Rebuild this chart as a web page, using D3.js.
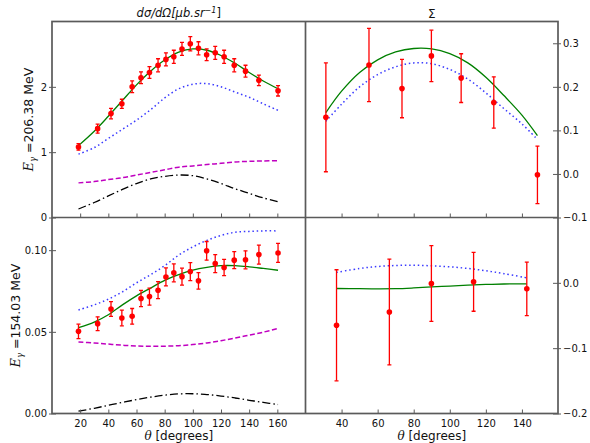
<!DOCTYPE html>
<html>
<head>
<meta charset="utf-8">
<script src="https://cdn.jsdelivr.net/npm/d3@7"></script>
<style>
  body { margin: 0; background: #fff; }
  svg { display: block; }
  text { font-family: "DejaVu Sans", sans-serif; fill: #111; }
</style>
</head>
<body>
<svg id="chart" width="590" height="443"></svg>
<script>
// ---------- measured data ----------
const csAngles = [18.8, 32.4, 41.9, 49.6, 56.9, 63.2, 69.2, 75.3, 80.9, 86.5,
                  92.3, 98.2, 104.0, 109.8, 115.9, 122.2, 129.4, 137.4, 146.9, 160.5];

const cs206    = [1.08, 1.36, 1.59, 1.74, 2.00, 2.14, 2.22, 2.33, 2.42, 2.46,
                  2.58, 2.66, 2.59, 2.49, 2.52, 2.46, 2.33, 2.24, 2.10, 1.94];
const cs206Err = [0.05, 0.07, 0.08, 0.07, 0.09, 0.09, 0.09, 0.10, 0.10, 0.10,
                  0.10, 0.11, 0.10, 0.09, 0.10, 0.10, 0.10, 0.09, 0.08, 0.08];

const cs154    = [0.0503, 0.0550, 0.0640, 0.0585, 0.0595, 0.0704, 0.0716, 0.0755, 0.0836, 0.0861,
                  0.0838, 0.0869, 0.0812, 0.0996, 0.0918, 0.0894, 0.0939, 0.0941, 0.0973, 0.0983];
const cs154Err = [0.0044, 0.0042, 0.0045, 0.0048, 0.0048, 0.0050, 0.0052, 0.0052, 0.0055, 0.0055,
                  0.0052, 0.0055, 0.0050, 0.0057, 0.0055, 0.0050, 0.0052, 0.0055, 0.0058, 0.0058];

const sigma206Angles = [31.3, 55.2, 73.5, 89.8, 106.3, 124.4, 148.6];
const sigma206       = [0.130, 0.250, 0.196, 0.271, 0.220, 0.164, -0.002];
const sigma206Err    = [0.125, 0.084, 0.067, 0.059, 0.056, 0.059, 0.066];

const sigma154Angles = [37.2, 66.5, 89.8, 113.2, 142.7];
const sigma154       = [-0.065, -0.0446, -0.001, 0.0015, -0.0092];
const sigma154Err    = [0.085, 0.081, 0.058, 0.045, 0.041];

// ---------- model curves ----------
const csCurveAngles = [18.8, 30, 40, 50, 60, 70, 80, 90, 100, 110, 120, 130, 140, 150, 160.5];

const csFull206  = [1.10, 1.32, 1.55, 1.79, 2.03, 2.24, 2.41, 2.53, 2.58, 2.56, 2.48, 2.36, 2.22, 2.09, 1.97];
const csPartA206 = [0.97, 1.07, 1.21, 1.35, 1.49, 1.65, 1.83, 1.97, 2.04, 2.05, 2.00, 1.92, 1.84, 1.74, 1.64];
const csPartB206 = [0.53, 0.55, 0.58, 0.61, 0.65, 0.69, 0.73, 0.77, 0.79, 0.81, 0.83, 0.85, 0.86, 0.865, 0.87];
const csPartC206 = [0.13, 0.23, 0.33, 0.43, 0.52, 0.59, 0.63, 0.65, 0.64, 0.59, 0.52, 0.44, 0.37, 0.30, 0.24];

const csFull154  = [0.0526, 0.0560, 0.0605, 0.0665, 0.0720, 0.0768, 0.0815, 0.0850, 0.0878, 0.0895, 0.0905, 0.0905, 0.0898, 0.0888, 0.0877];
const csPartA154 = [0.0634, 0.0665, 0.0700, 0.0745, 0.0800, 0.0850, 0.0905, 0.0970, 0.1020, 0.1060, 0.1090, 0.1110, 0.1115, 0.1118, 0.1118];
const csPartB154 = [0.0438, 0.0432, 0.0425, 0.0418, 0.0413, 0.0411, 0.0412, 0.0415, 0.0422, 0.0432, 0.0446, 0.0462, 0.0480, 0.0498, 0.0521];
const csPartC154 = [0.0014, 0.0032, 0.0050, 0.0068, 0.0085, 0.0100, 0.0112, 0.0120, 0.0121, 0.0116, 0.0107, 0.0095, 0.0081, 0.0068, 0.0055];

const sigma206CurveAngles = [31.3, 40, 50, 60, 70, 80, 90, 100, 110, 120, 130, 140, 148.6];
const sigmaFull206  = [0.141, 0.190, 0.233, 0.262, 0.280, 0.288, 0.287, 0.276, 0.255, 0.222, 0.180, 0.135, 0.088];
const sigmaPartA206 = [0.121, 0.160, 0.200, 0.228, 0.246, 0.255, 0.253, 0.240, 0.218, 0.186, 0.150, 0.115, 0.079];

const sigma154CurveAngles = [37.2, 50, 60, 70, 80, 90, 100, 110, 120, 130, 142.7];
const sigmaFull154  = [-0.0087, -0.0090, -0.0092, -0.0090, -0.0078, -0.0062, -0.0050, -0.0035, -0.0025, -0.0018, -0.0015];
const sigmaPartA154 = [0.016, 0.022, 0.025, 0.0265, 0.027, 0.026, 0.0245, 0.022, 0.0185, 0.014, 0.0077];

// ---------- ticks ----------
const csAngleTicks    = [20, 40, 60, 80, 100, 120, 140, 160];
const sigmaAngleTicks = [40, 60, 80, 100, 120, 140];
const csTicks206      = [0, 1, 2];
const csTicks154      = [0, 0.05, 0.10];
const sigmaTicks206   = [-0.1, 0.0, 0.1, 0.2, 0.3];
const sigmaTicks154   = [-0.2, -0.1, 0.0];

// ---------- layout ----------
const svg = d3.select("#chart");
const L = 52, M = 305.5, R = 558, T = 21.5, H = 217.5, B = 413.5;
const spineColor = "#5a5a5a";

const styles = {
  full:  { stroke: "#008000", width: 1.3, dash: null },
  partA: { stroke: "#3a3aff", width: 1.5, dash: "1.5,2.8" },
  partB: { stroke: "#c000c0", width: 1.5, dash: "5,2.5" },
  partC: { stroke: "#000000", width: 1.3, dash: "8,3,1.5,3" }
};

function panel(id, x0, x1, y0, y1, xDomain, yDomain, curves, pts, axisCfg) {
  const x = d3.scaleLinear().domain(xDomain).range([x0, x1]);
  const y = d3.scaleLinear().domain(yDomain).range([y1, y0]);

  svg.append("clipPath").attr("id", "clip-" + id)
    .append("rect").attr("x", x0).attr("y", y0).attr("width", x1 - x0).attr("height", y1 - y0);

  const g = svg.append("g").attr("clip-path", `url(#clip-${id})`);
  const line = d3.line().curve(d3.curveCatmullRom.alpha(0.5))
    .x(d => x(d[0])).y(d => y(d[1]));

  curves.forEach(c => {
    const st = styles[c.style];
    g.append("path")
      .datum(d3.zip(c.angles, c.values))
      .attr("d", line)
      .attr("fill", "none")
      .attr("stroke", st.stroke)
      .attr("stroke-width", st.width)
      .attr("stroke-dasharray", st.dash);
  });

  const data = d3.zip(pts.angles, pts.values, pts.errors);
  const eb = g.append("g").attr("stroke", "#ff0000").attr("stroke-width", 1.3);
  eb.selectAll("line.bar").data(data).join("line")
    .attr("x1", d => x(d[0])).attr("x2", d => x(d[0]))
    .attr("y1", d => y(d[1] - d[2])).attr("y2", d => y(d[1] + d[2]));
  eb.selectAll("line.capTop").data(data).join("line")
    .attr("x1", d => x(d[0]) - 2).attr("x2", d => x(d[0]) + 2)
    .attr("y1", d => y(d[1] + d[2])).attr("y2", d => y(d[1] + d[2]));
  eb.selectAll("line.capBot").data(data).join("line")
    .attr("x1", d => x(d[0]) - 2).attr("x2", d => x(d[0]) + 2)
    .attr("y1", d => y(d[1] - d[2])).attr("y2", d => y(d[1] - d[2]));
  g.append("g").selectAll("circle").data(data).join("circle")
    .attr("cx", d => x(d[0])).attr("cy", d => y(d[1])).attr("r", 2.8)
    .attr("fill", "#ff0000");

  // bottom axis (ticks pointing inward)
  const xa = svg.append("g").attr("transform", `translate(0,${y1})`)
    .call(d3.axisBottom(x).tickValues(axisCfg.xTicks).tickSize(-4).tickPadding(6.5)
      .tickFormat(axisCfg.xLabels ? d3.format("d") : ""));
  xa.select(".domain").remove();
  xa.selectAll(".tick line").attr("stroke", spineColor).attr("stroke-width", 1);
  xa.selectAll("text").attr("font-size", 10).attr("font-family", "DejaVu Sans").attr("fill", "#111");

  // vertical axis
  if (axisCfg.side === "left") {
    const ya = svg.append("g").attr("transform", `translate(${x0},0)`)
      .call(d3.axisLeft(y).tickValues(axisCfg.yTicks).tickSize(3).tickPadding(2)
        .tickFormat(d3.format(axisCfg.yFmt)));
    ya.select(".domain").remove();
    ya.selectAll(".tick line").attr("x1", 4).attr("x2", -3)
      .attr("stroke", spineColor).attr("stroke-width", 1);
    ya.selectAll("text").attr("font-size", 10).attr("font-family", "DejaVu Sans").attr("fill", "#111");
  } else {
    const ya = svg.append("g").attr("transform", `translate(${x1},0)`)
      .call(d3.axisRight(y).tickValues(axisCfg.yTicks).tickSize(3).tickPadding(2)
        .tickFormat(d3.format(axisCfg.yFmt)));
    ya.select(".domain").remove();
    ya.selectAll(".tick line").attr("x1", -5).attr("x2", 3)
      .attr("stroke", spineColor).attr("stroke-width", 1);
    ya.selectAll("text").attr("font-size", 10).attr("font-family", "DejaVu Sans").attr("fill", "#111");
  }
}

panel("tl", L, M, T, H, [0, 180], [0, 3.0], [
  { angles: csCurveAngles, values: csPartC206, style: "partC" },
  { angles: csCurveAngles, values: csPartB206, style: "partB" },
  { angles: csCurveAngles, values: csPartA206, style: "partA" },
  { angles: csCurveAngles, values: csFull206,  style: "full" }
], { angles: csAngles, values: cs206, errors: cs206Err },
{ side: "left", xTicks: csAngleTicks, xLabels: false, yTicks: csTicks206, yFmt: "d" });

panel("tr", M, R, T, H, [20, 160], [-0.1, 0.35], [
  { angles: sigma206CurveAngles, values: sigmaPartA206, style: "partA" },
  { angles: sigma206CurveAngles, values: sigmaFull206,  style: "full" }
], { angles: sigma206Angles, values: sigma206, errors: sigma206Err },
{ side: "right", xTicks: sigmaAngleTicks, xLabels: false, yTicks: sigmaTicks206, yFmt: ".1f" });

panel("bl", L, M, H, B, [0, 180], [0, 0.12], [
  { angles: csCurveAngles, values: csPartC154, style: "partC" },
  { angles: csCurveAngles, values: csPartB154, style: "partB" },
  { angles: csCurveAngles, values: csPartA154, style: "partA" },
  { angles: csCurveAngles, values: csFull154,  style: "full" }
], { angles: csAngles, values: cs154, errors: cs154Err },
{ side: "left", xTicks: csAngleTicks, xLabels: true, yTicks: csTicks154, yFmt: ".2f" });

panel("br", M, R, H, B, [20, 160], [-0.2, 0.1], [
  { angles: sigma154CurveAngles, values: sigmaPartA154, style: "partA" },
  { angles: sigma154CurveAngles, values: sigmaFull154,  style: "full" }
], { angles: sigma154Angles, values: sigma154, errors: sigma154Err },
{ side: "right", xTicks: sigmaAngleTicks, xLabels: true, yTicks: sigmaTicks154, yFmt: ".1f" });

// frame and panel dividers
const frame = svg.append("g").attr("stroke", spineColor).attr("stroke-width", 1.7).attr("fill", "none");
frame.append("rect").attr("x", L).attr("y", T).attr("width", R - L).attr("height", B - T);
frame.append("line").attr("x1", M).attr("x2", M).attr("y1", T).attr("y2", B);
frame.append("line").attr("x1", L).attr("x2", R).attr("y1", H).attr("y2", H);

// column titles
const serif = "'DejaVu Serif', serif";
const t1 = svg.append("text").attr("x", (L + M) / 2).attr("y", 17)
  .attr("text-anchor", "middle").attr("font-family", serif).attr("font-style", "italic")
  .attr("font-size", 11.5).attr("fill", "#222");
t1.append("tspan").text("dσ/dΩ[μb.sr");
t1.append("tspan").attr("dy", -4).attr("font-size", 8).text("−1");
t1.append("tspan").attr("dy", 4).attr("font-style", "normal").text("]");

svg.append("text").attr("x", (M + R) / 2).attr("y", 18)
  .attr("text-anchor", "middle").attr("font-family", serif)
  .attr("font-size", 12).attr("fill", "#222").text("Σ");

// row labels, each placed clear of its own tick labels
function rowLabel(bx, cy, energy) {
  const t = svg.append("text")
    .attr("transform", `translate(${bx},${cy}) rotate(-90)`)
    .attr("text-anchor", "middle").attr("font-size", 12.5).attr("fill", "#222");
  t.append("tspan").attr("font-family", serif).attr("font-style", "italic").text("E");
  t.append("tspan").attr("font-family", serif).attr("font-style", "italic")
    .attr("font-size", 8.5).attr("dy", 3).text("γ");
  t.append("tspan").attr("dy", -3).text(" =" + energy + " MeV");
}
rowLabel(33, (T + H) / 2, "206.38");
rowLabel(20, (H + B) / 2, "154.03");

// angle labels
function angleLabel(cx) {
  const t = svg.append("text").attr("x", cx).attr("y", 440)
    .attr("text-anchor", "middle").attr("font-size", 12).attr("fill", "#111");
  t.append("tspan").attr("font-family", serif).attr("font-style", "italic").text("θ");
  t.append("tspan").text(" [degrees]");
}
angleLabel((L + M) / 2);
angleLabel((M + R) / 2);
</script>
</body>
</html>
